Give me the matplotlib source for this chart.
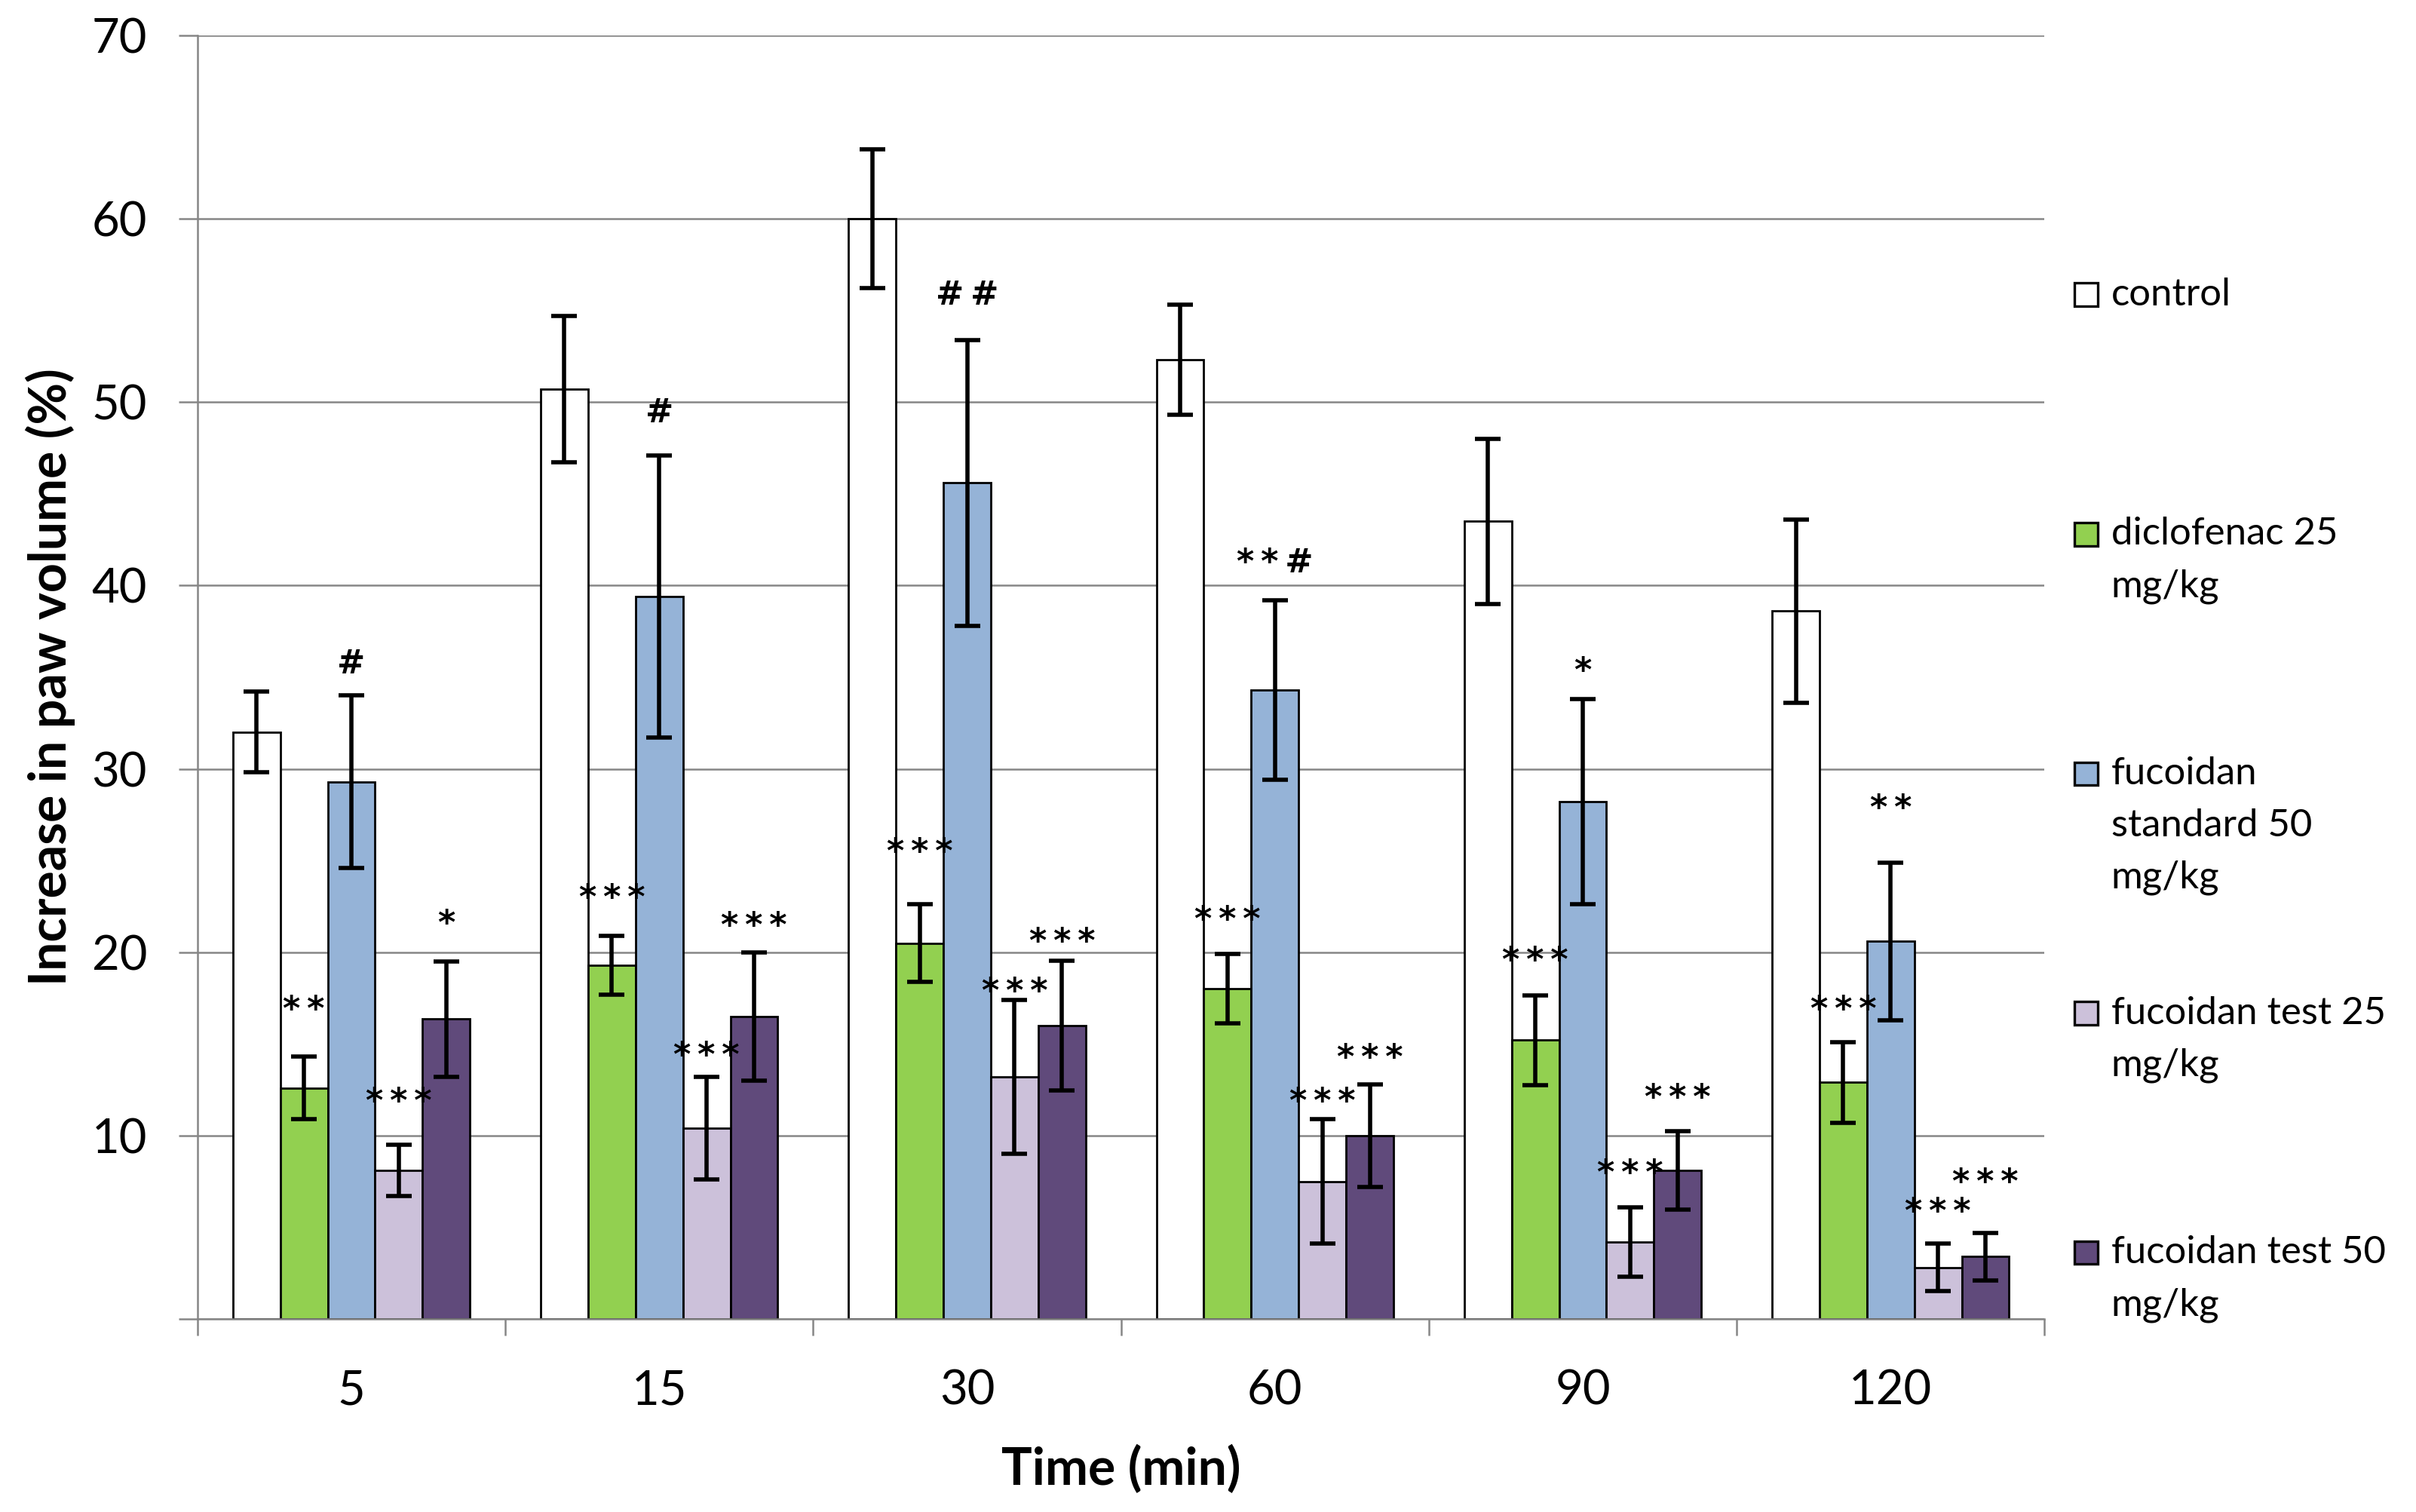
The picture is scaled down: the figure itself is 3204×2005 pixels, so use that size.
import numpy as np
import matplotlib
matplotlib.use('Agg')
import matplotlib.pyplot as plt
from matplotlib.patches import Rectangle

plt.rcParams['font.family'] = ['Lato', 'DejaVu Sans']

# ── data ──────────────────────────────────────────────────────────────────────
TIMES = ['5', '15', '30', '60', '90', '120']
SERIES = ['control', 'diclofenac 25\nmg/kg', 'fucoidan\nstandard 50\nmg/kg',
          'fucoidan test 25\nmg/kg', 'fucoidan test 50\nmg/kg']
COLORS = ['#FFFFFF', '#92D050', '#95B3D7', '#CCC1DA', '#604A7B']

control       = [32.0, 50.7, 60.0, 52.3, 43.5, 38.6]
control_err   = [2.2, 4.0, 3.8, 3.0, 4.5, 5.0]
diclofenac    = [12.6, 19.3, 20.5, 18.0, 15.2, 12.9]
diclofenac_err = [1.7, 1.6, 2.1, 1.9, 2.45, 2.2]
fuco_std      = [29.3, 39.4, 45.6, 34.3, 28.2, 20.6]
fuco_std_err  = [4.7, 7.7, 7.8, 4.9, 5.6, 4.3]
fuco_t25      = [8.1, 10.4, 13.2, 7.5, 4.2, 2.8]
fuco_t25_err  = [1.4, 2.8, 4.2, 3.4, 1.9, 1.3]
fuco_t50      = [16.35, 16.5, 16.0, 10.0, 8.1, 3.4]
fuco_t50_err  = [3.15, 3.5, 3.55, 2.8, 2.15, 1.3]

# significance marks and the height they are written at
control_sig     = ['', '', '', '', '', '']
control_sig_y   = [0, 0, 0, 0, 0, 0]
diclofenac_sig  = ['**', '***', '***', '***', '***', '***']
diclofenac_sig_y = [17.3, 23.4, 25.9, 22.2, 20.0, 17.3]
fuco_std_sig    = ['#', '#', '##', '**#', '*', '**']
fuco_std_sig_y  = [35.9, 49.6, 56.0, 41.4, 35.8, 28.3]
fuco_t25_sig    = ['***', '***', '***', '***', '***', '***']
fuco_t25_sig_y  = [12.3, 14.8, 18.3, 12.3, 8.4, 6.3]
fuco_t50_sig    = ['*', '***', '***', '***', '***', '***']
fuco_t50_sig_y  = [22.0, 21.9, 21.0, 14.7, 12.5, 7.9]

values = [control, diclofenac, fuco_std, fuco_t25, fuco_t50]
errors = [control_err, diclofenac_err, fuco_std_err, fuco_t25_err, fuco_t50_err]
sigs = [control_sig, diclofenac_sig, fuco_std_sig, fuco_t25_sig, fuco_t50_sig]
sig_ys = [control_sig_y, diclofenac_sig_y, fuco_std_sig_y, fuco_t25_sig_y, fuco_t50_sig_y]

GRAY = '#868686'
BAR_W = 0.154
SIG_FS = 16

fig = plt.figure(figsize=(16.025, 10.025), dpi=200)
ax = fig.add_axes([0.0817, 0.1277, 0.7643, 0.8489])

x = np.arange(len(TIMES))
for k, (vals, errs) in enumerate(zip(values, errors)):
    pos = x + (k - 2) * BAR_W
    ax.bar(pos, vals, BAR_W, color=COLORS[k], edgecolor='black', linewidth=1.0, zorder=2)
    ax.errorbar(pos, vals, yerr=errs, fmt='none', ecolor='black',
                elinewidth=2, capsize=6, capthick=2, zorder=3)
    for i in range(len(TIMES)):
        lab = sigs[k][i]
        if not lab:
            continue
        # asterisks sit high in the glyph box, shift them down a bit
        shift = -0.10 * SIG_FS if '#' in lab else -0.26 * SIG_FS
        ax.annotate('\u2009'.join(lab), (pos[i], sig_ys[k][i]), xytext=(0, shift),
                    textcoords='offset points', ha='center', va='center',
                    fontsize=SIG_FS, fontweight='bold', family='DejaVu Sans', zorder=4)

# axes styling
ax.set_xlim(-0.5, len(TIMES) - 0.5)
ax.set_ylim(0, 70)
ax.set_yticks(np.arange(0, 71, 10))
ax.set_yticklabels([''] + [str(v) for v in range(10, 71, 10)])
ax.yaxis.grid(True, color=GRAY, lw=0.9)
ax.set_axisbelow(True)
for s in ['top', 'right']:
    ax.spines[s].set_visible(False)
for s in ['left', 'bottom']:
    ax.spines[s].set_color(GRAY)
    ax.spines[s].set_linewidth(0.9)
ax.tick_params(axis='y', length=9, width=0.9, color=GRAY, pad=15, labelsize=22.8)

ax.set_xticks(np.arange(-0.5, len(TIMES), 1))
ax.set_xticklabels([])
ax.set_xticks(x, minor=True)
ax.set_xticklabels(TIMES, minor=True)
ax.tick_params(axis='x', which='major', length=8, width=0.9, color=GRAY)
ax.tick_params(axis='x', which='minor', length=0, pad=24, labelsize=22.8)

ax.set_xlabel('Time (min)', fontsize=24.5, fontweight='bold')
ax.xaxis.set_label_coords(0.5, -0.098)
ax.set_ylabel('Increase in paw volume (%)', fontsize=24.5, fontweight='bold')
ax.yaxis.set_label_coords(-0.066, 0.5)

# legend on the right, square aligned with the first line of each entry
for k, name in enumerate(SERIES):
    yb = 0.789 - k * 0.1866
    ax.add_patch(Rectangle((1.016, yb), 0.013, 0.018, transform=ax.transAxes,
                           clip_on=False, facecolor=COLORS[k], edgecolor='black', lw=1.2))
    ax.text(1.036, yb + 0.0225, name, transform=ax.transAxes, ha='left', va='top',
            fontsize=18.3, linespacing=1.62)

fig.savefig('out.png', dpi=200)
